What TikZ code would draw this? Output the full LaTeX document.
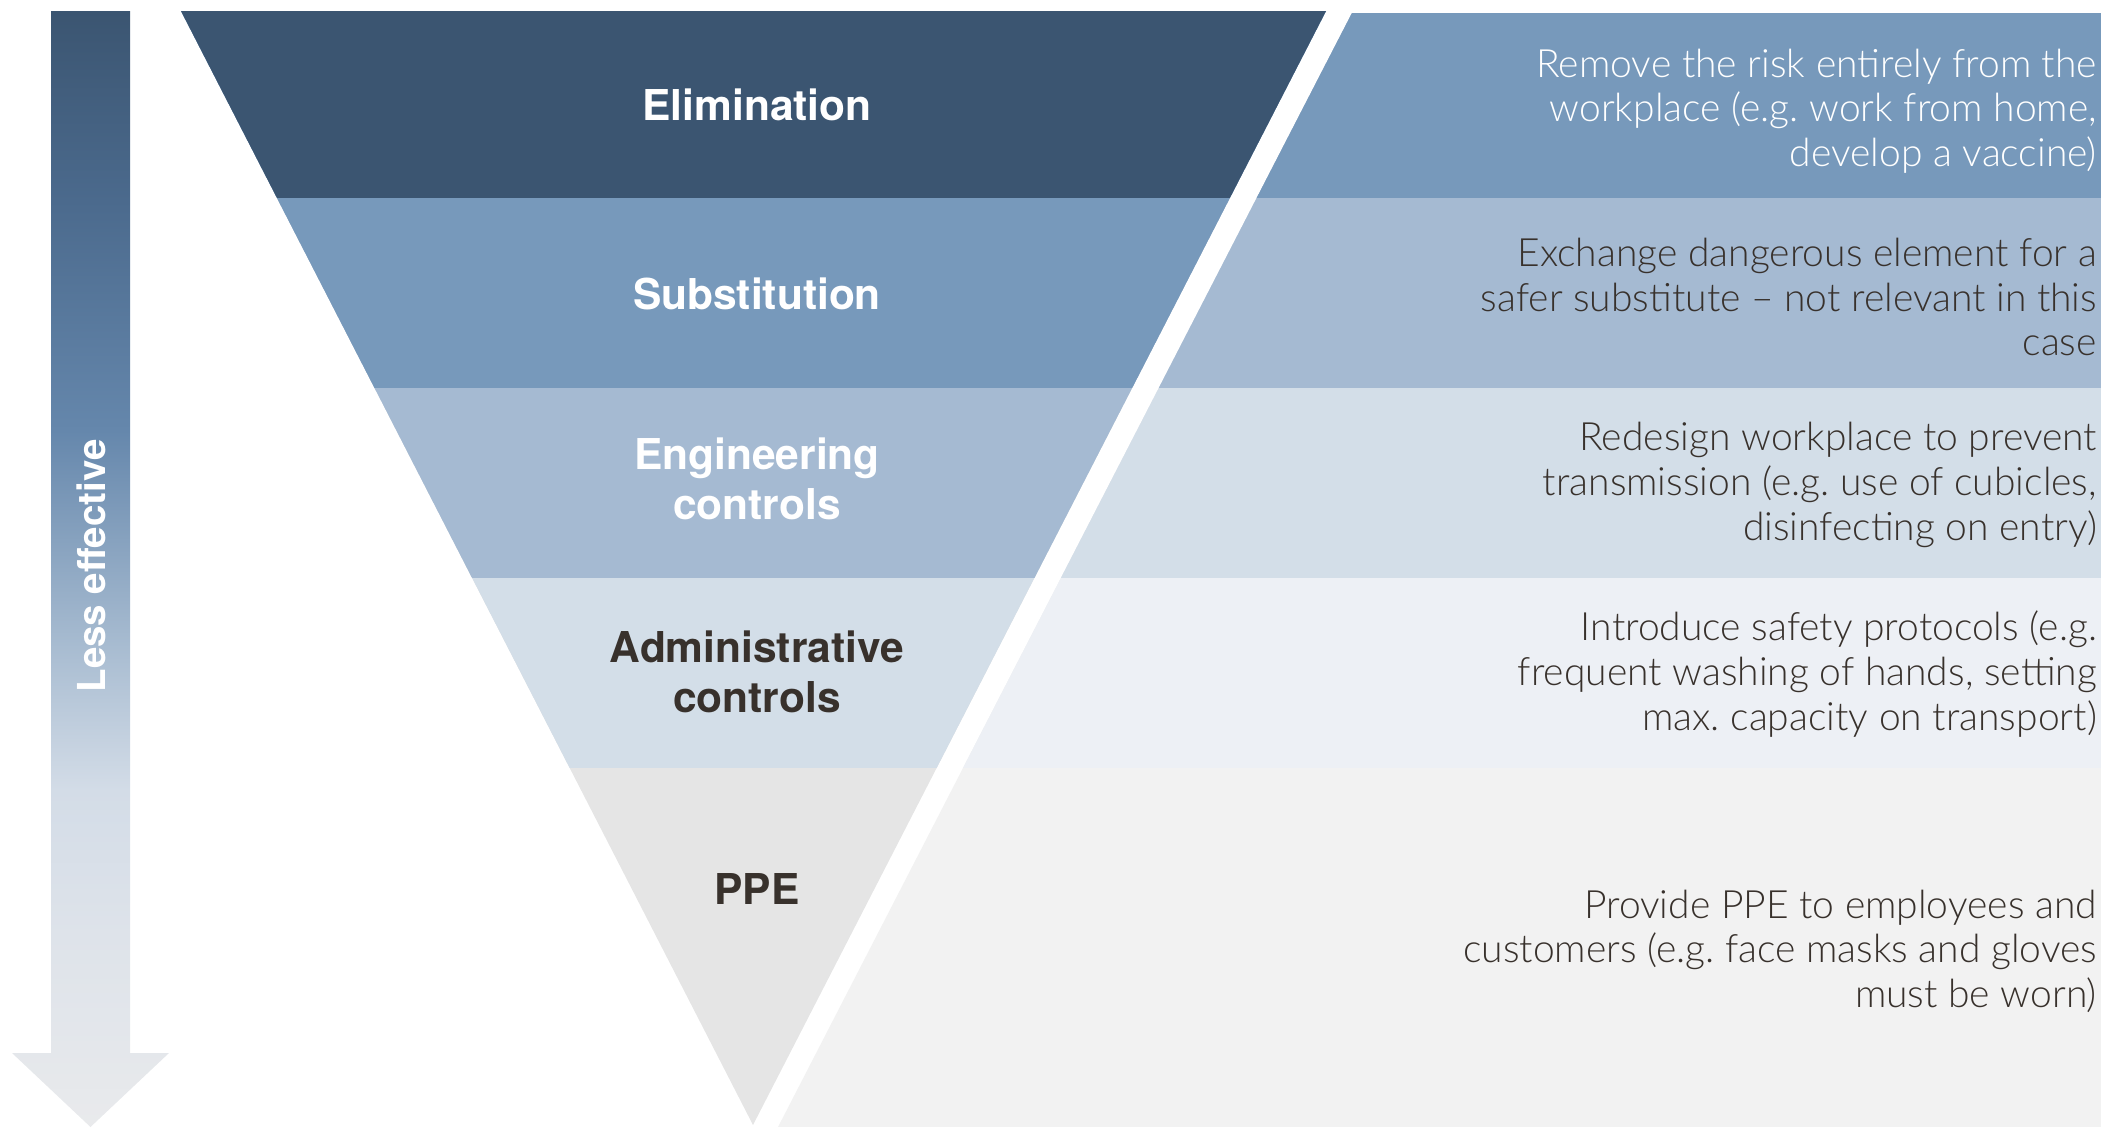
\documentclass[tikz,border=0pt]{standalone}
\usepackage{fontspec}
\setmainfont{TeX Gyre Heros}
\newfontfamily\descfont{Lato Light}
\usetikzlibrary{calc}
\frenchspacing

% tier colours
\definecolor{elimC}{HTML}{3B5571}
\definecolor{subsC}{HTML}{7799BB}
\definecolor{engC}{HTML}{A5BAD2}
\definecolor{admC}{HTML}{D3DEE8}
\definecolor{ppeC}{HTML}{E5E5E5}
\definecolor{admR}{HTML}{EDF0F5}
\definecolor{ppeR}{HTML}{F2F2F2}
\definecolor{inkC}{HTML}{38312C}
% colours of the "less effective" arrow, bottom to top
\definecolor{arA}{HTML}{E9EAEC}
\definecolor{arB}{HTML}{E4E7EB}
\definecolor{arC}{HTML}{DEE3EA}
\definecolor{arD}{HTML}{D3DCE7}
\definecolor{arE}{HTML}{A8BCD1}
\definecolor{arF}{HTML}{6587AC}
\definecolor{arG}{HTML}{4B6A8D}
\definecolor{arH}{HTML}{3B5571}

\pgfdeclareverticalshading{lessfx}{100bp}{%
  color(0bp)=(arA); color(25bp)=(arA); color(28.45bp)=(arB);
  color(33.6bp)=(arC); color(40.1bp)=(arD); color(46.5bp)=(arE);
  color(56.2bp)=(arF); color(66.5bp)=(arG); color(75bp)=(arH);
  color(100bp)=(arH)}

\begin{document}
\begin{tikzpicture}[x=1pt,y=-1pt,
  tierlabel/.style={font=\fontsize{42.5}{50}\selectfont\bfseries, align=center, inner sep=0pt},
  tierdesc/.style={font=\descfont\fontsize{39}{44.6}\selectfont, align=right, anchor=east, inner sep=0pt},
  arrowlabel/.style={font=\fontsize{38.5}{44}\selectfont\bfseries, text=white, rotate=90, inner sep=0pt}]
\useasboundingbox (0,0) rectangle (2101,1127);

% arrow on the left
\shade[shading=lessfx] (51,11) -- (130,11) -- (130,1053) -- (169,1053)
  -- (90.5,1127) -- (12,1053) -- (51,1053) -- cycle;
\node[arrowlabel] (less) at (91,566) {Less effective};

% inverted triangle of controls
\coordinate (tl) at (181,11);
\coordinate (tr) at (1326,11);
\coordinate (tip) at (753,1125);
\begin{scope}
  \clip (tl) -- (tr) -- (tip) -- cycle;
  \fill[ppeC]  (150,0) rectangle (1400,1127);
  \fill[admC]  (150,0) rectangle (1400,768);
  \fill[engC]  (150,0) rectangle (1400,578);
  \fill[subsC] (150,0) rectangle (1400,388);
  \fill[elimC] (150,0) rectangle (1400,198);
\end{scope}

% description panel to the right, separated by a white slanted gap
\coordinate (pt) at (1352,13);
\coordinate (pb) at (778,1127);
\begin{scope}
  \clip (pt) -- (2101,13) -- (2101,1127) -- (pb) -- cycle;
  \fill[ppeR]  (700,0) rectangle (2101,1127);
  \fill[admR]  (700,0) rectangle (2101,768);
  \fill[admC]  (700,0) rectangle (2101,578);
  \fill[engC]  (700,0) rectangle (2101,388);
  \fill[subsC] (700,0) rectangle (2101,198);
\end{scope}

% tier names
\node[tierlabel, text=white, anchor=base] (elim) at (757,120) {Elimination};
\node[tierlabel, text=white, anchor=base] (subs) at (757,309) {Substitution};
\node[tierlabel, text=white] (eng) at (757,479) {Engineering\\controls};
\node[tierlabel, text=inkC] (adm) at (757,672) {Administrative\\controls};
\node[tierlabel, text=inkC, anchor=base] (ppe) at (757,904) {PPE};

% tier descriptions
\node[tierdesc, text=white] (elimd) at (2097,111)
  {Remove the risk entirely from the\\workplace (e.g. work from home,\\develop a vaccine)};
\node[tierdesc, text=inkC] (subsd) at (2097,297)
  {Exchange dangerous element for a\\safer substitute – not relevant in this\\case};
\node[tierdesc, text=inkC] (engd) at (2097,485)
  {Redesign workplace to prevent\\transmission (e.g. use of cubicles,\\disinfecting on entry)};
\node[tierdesc, text=inkC] (admd) at (2097,674)
  {Introduce safety protocols (e.g.\\frequent washing of hands, setting\\max. capacity on transport)};
\node[tierdesc, text=inkC] (pped) at (2097,951)
  {Provide PPE to employees and\\customers (e.g. face masks and gloves\\must be worn)};
\end{tikzpicture}
\end{document}
